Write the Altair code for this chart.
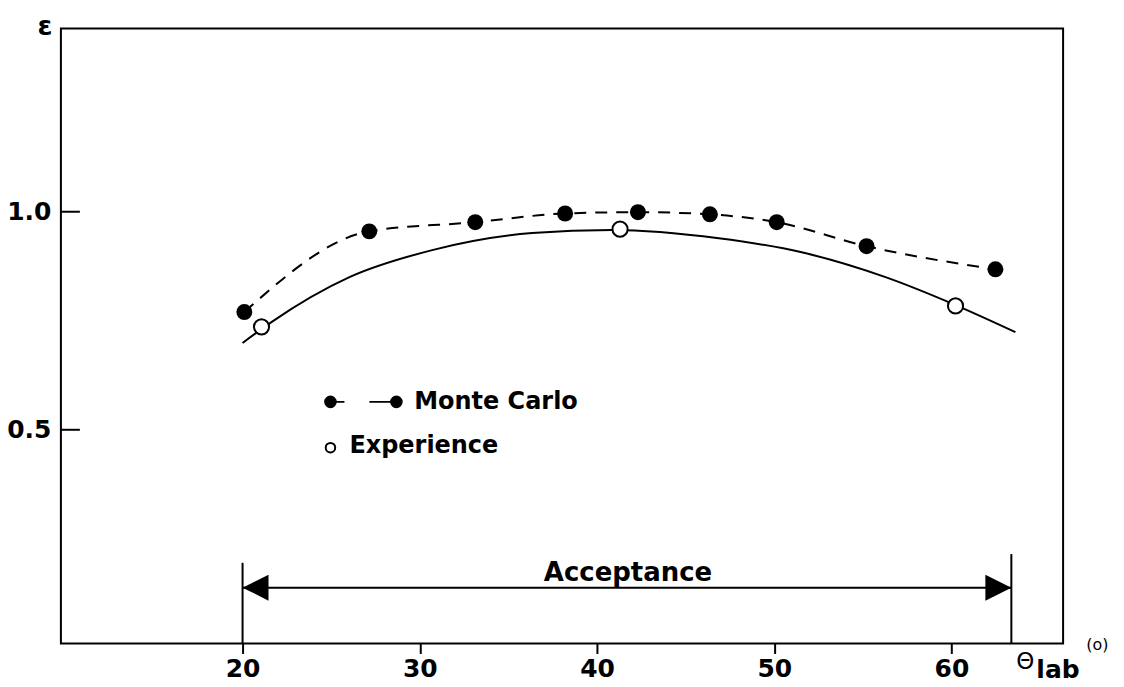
import altair as alt
import pandas as pd

# ---- data ----
mc_theta = [20.1, 27.15, 33.13, 38.2, 42.31, 46.37, 50.14, 55.21, 62.48]
mc_eff = [0.770, 0.955, 0.976, 0.996, 0.999, 0.994, 0.976, 0.921, 0.868]

exp_theta = [21.07, 41.3, 60.23]
exp_eff = [0.736, 0.960, 0.784]

fit_theta = [20.0, 21.63, 26.03, 30.7, 36.34, 40.85, 46.87, 51.55, 56.28, 60.23, 63.61]
fit_eff = [0.699, 0.747, 0.850, 0.912, 0.951, 0.958, 0.939, 0.907, 0.850, 0.786, 0.724]

x_ticks = [20, 30, 40, 50, 60]
y_ticks = [0.5, 1.0]

acc_limits = [20.0, 63.38]
acc_tops = [0.195, 0.215]
acc_arrow_y = 0.138
acc_label = "Acceptance"
acc_label_pos = (41.75, 0.154)

legend_mc_x = [24.96, 28.68]
legend_mc_y = 0.564
legend_exp_pt = (24.96, 0.459)
legend_texts = ["Monte Carlo", "Experience"]
legend_text_x = [29.69, 26.03]
legend_text_y = [0.548, 0.447]

x_domain = [9.75, 66.3]
y_domain = [0.01, 1.42]

FONT = "DejaVu Sans"

xs = alt.Scale(domain=x_domain, nice=False, zero=False)
ys = alt.Scale(domain=y_domain, nice=False, zero=False)
x_axis = alt.Axis(values=x_ticks, title=None, grid=False, domain=False,
                  tickSize=10, tickWidth=2, tickColor="black",
                  labelFont=FONT, labelFontWeight="bold", labelFontSize=25,
                  labelColor="black", labelPadding=3, format="d")
y_axis = alt.Axis(values=y_ticks, title=None, grid=False, domain=False,
                  ticks=False, labelFont=FONT, labelFontWeight="bold",
                  labelFontSize=25, labelColor="black", labelPadding=10,
                  format=".1f")


def X(f="x"):
    return alt.X(f"{f}:Q", scale=xs, axis=x_axis)


def Y(f="y"):
    return alt.Y(f"{f}:Q", scale=ys, axis=y_axis)


fit_df = pd.DataFrame({"x": fit_theta, "y": fit_eff})
mc_df = pd.DataFrame({"x": mc_theta, "y": mc_eff})
exp_df = pd.DataFrame({"x": exp_theta, "y": exp_eff})

fit_line = alt.Chart(fit_df).mark_line(
    color="black", strokeWidth=2, interpolate="monotone"
).encode(x=X(), y=Y())

mc_line = alt.Chart(mc_df).mark_line(
    color="black", strokeWidth=2, strokeDash=[12, 9], interpolate="monotone"
).encode(x=X(), y=Y())

mc_pts = alt.Chart(mc_df).mark_point(
    shape="circle", filled=True, color="black", opacity=1, size=256
).encode(x=X(), y=Y())

exp_pts = alt.Chart(exp_df).mark_point(
    shape="circle", filled=True, fill="white", stroke="black",
    strokeWidth=2, opacity=1, size=230
).encode(x=X(), y=Y())

# y-axis ticks pointing inward
ytick_df = pd.DataFrame({"y": y_ticks})
ytick_rules = alt.Chart(ytick_df).mark_rule(color="black", strokeWidth=2).encode(
    y=Y(), x=alt.value(0), x2=alt.value(19)
)

# acceptance markers
acc_v_df = pd.DataFrame({"x": acc_limits, "y": [y_domain[0]] * 2, "y2": acc_tops})
acc_vlines = alt.Chart(acc_v_df).mark_rule(color="black", strokeWidth=2).encode(
    x=X(), y=Y(), y2="y2:Q"
)
acc_h_df = pd.DataFrame({"x": [acc_limits[0]], "x2": [acc_limits[1]], "y": [acc_arrow_y]})
acc_hline = alt.Chart(acc_h_df).mark_rule(color="black", strokeWidth=2).encode(
    x=X(), x2="x2:Q", y=Y()
)
left_head = alt.Chart(pd.DataFrame({"x": [acc_limits[0]], "y": [acc_arrow_y]})).mark_point(
    shape="M-1,0L1,-1L1,1Z", filled=True, color="black", opacity=1, size=676, xOffset=13
).encode(x=X(), y=Y())
right_head = alt.Chart(pd.DataFrame({"x": [acc_limits[1]], "y": [acc_arrow_y]})).mark_point(
    shape="M1,0L-1,-1L-1,1Z", filled=True, color="black", opacity=1, size=676, xOffset=-13
).encode(x=X(), y=Y())
acc_text = alt.Chart(pd.DataFrame({"x": [acc_label_pos[0]], "y": [acc_label_pos[1]],
                                   "t": [acc_label]})).mark_text(
    font=FONT, fontWeight="bold", fontSize=26, color="black",
    align="center", baseline="alphabetic"
).encode(x=X(), y=Y(), text="t:N")

# legend
leg_line_df = pd.DataFrame({"x": [legend_mc_x[0]], "x2": [legend_mc_x[1]], "y": [legend_mc_y]})
leg_line = alt.Chart(leg_line_df).mark_rule(
    color="black", strokeWidth=2, strokeDash=[14, 25, 30]
).encode(x=X(), x2="x2:Q", y=Y())
leg_dots = alt.Chart(pd.DataFrame({"x": legend_mc_x, "y": [legend_mc_y] * 2})).mark_point(
    shape="circle", filled=True, color="black", opacity=1, size=160
).encode(x=X(), y=Y())
leg_open = alt.Chart(pd.DataFrame({"x": [legend_exp_pt[0]], "y": [legend_exp_pt[1]]})).mark_point(
    shape="circle", filled=True, fill="white", stroke="black", strokeWidth=2,
    opacity=1, size=90
).encode(x=X(), y=Y())
leg_text = alt.Chart(pd.DataFrame({"x": legend_text_x, "y": legend_text_y,
                                   "t": legend_texts})).mark_text(
    font=FONT, fontWeight="bold", fontSize=24, color="black",
    align="left", baseline="alphabetic"
).encode(x=X(), y=Y(), text="t:N")

# axis titles
eps_label = alt.Chart(pd.DataFrame({"x": [8.85], "y": [1.406], "t": ["ε"]})).mark_text(
    font=FONT, fontWeight="bold", fontSize=27, color="black",
    align="center", baseline="alphabetic"
).encode(x=X(), y=Y(), text="t:N")
theta_label = alt.Chart(pd.DataFrame({"x": [63.66], "y": [-0.0495], "t": ["Θ"]})).mark_text(
    font=FONT, fontSize=23, color="black", align="left", baseline="alphabetic"
).encode(x=X(), y=Y(), text="t:N")
lab_label = alt.Chart(pd.DataFrame({"x": [64.79], "y": [-0.070], "t": ["lab"]})).mark_text(
    font=FONT, fontWeight="bold", fontSize=25, color="black", align="left", baseline="alphabetic"
).encode(x=X(), y=Y(), text="t:N")
unit_label = alt.Chart(pd.DataFrame({"x": [67.61], "y": [-0.004], "t": ["(o)"]})).mark_text(
    font=FONT, fontSize=16, color="black", align="left", baseline="alphabetic"
).encode(x=X(), y=Y(), text="t:N")

chart = alt.layer(
    fit_line, mc_line, mc_pts, exp_pts, ytick_rules,
    acc_vlines, acc_hline, left_head, right_head, acc_text,
    leg_line, leg_dots, leg_open, leg_text,
    eps_label, theta_label, lab_label, unit_label,
).properties(
    width=1004, height=616,
    autosize=alt.AutoSizeParams(type="none"),
    padding={"left": 53, "top": 20, "right": 53, "bottom": 46},
    background="white",
).configure_view(
    stroke="black", strokeWidth=2
)

chart.save("out.html", embed_options={"renderer": "svg", "actions": False})
